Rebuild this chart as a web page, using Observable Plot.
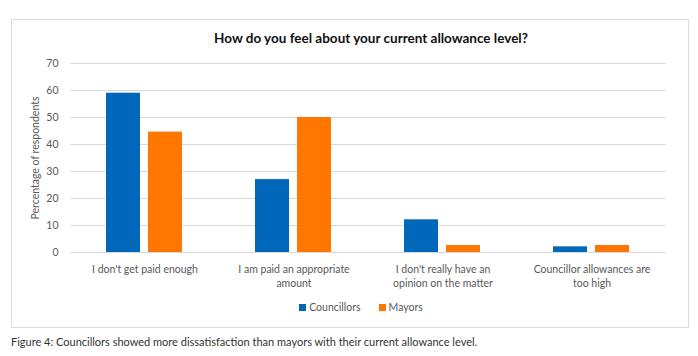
<!DOCTYPE html>
<html>
<head>
<meta charset="utf-8">
<script src="https://cdn.jsdelivr.net/npm/d3@7"></script>
<script src="https://cdn.jsdelivr.net/npm/@observablehq/plot@0.6"></script>
<style>
  body { margin: 0; background: #fff; font-family: Lato, "Open Sans", sans-serif; }
  #page { position: relative; width: 698px; height: 356px; }
  #box { position: absolute; left: 11px; top: 19px; width: 676px; height: 307px; border: 1.5px solid #dcdcdc; }
  #title { position: absolute; left: 0; width: 742px; top: 30px; text-align: center; font-weight: bold; font-size: 13.5px; color: #111; }
  #chart { position: absolute; left: 11px; top: 50px; }
  #legend { position: absolute; left: 0; width: 722px; top: 301px; font-size: 10.5px; color: #595959; text-align: center; }
  #legend span.item { display: inline-block; margin: 0 9px; }
  #legend span.sw { display: inline-block; width: 7px; height: 7px; margin-right: 3px; vertical-align: 0px; }
  #caption { position: absolute; left: 11px; top: 335px; font-size: 11px; color: #333; }
</style>
</head>
<body>
<div id="page">
  <div id="box"></div>
  <div id="title">How do you feel about your current allowance level?</div>
  <div id="chart"></div>
  <div id="legend"></div>
  <div id="caption">Figure 4: Councillors showed more dissatisfaction than mayors with their current allowance level.</div>
</div>
<script>
const categories = [
  "I don't get paid enough",
  "I am paid an appropriate\namount",
  "I don't really have an\nopinion on the matter",
  "Councillor allowances are\ntoo high"
];
const seriesNames = ["Councillors", "Mayors"];
const councillors = [59, 27, 12.1, 2.1];
const mayors = [44.6, 50, 2.6, 2.6];
const colors = ["#0067B9", "#FF7700"];
const yTicks = [0, 10, 20, 30, 40, 50, 60, 70];

const data = [];
categories.forEach((c, i) => {
  data.push({category: c, series: seriesNames[0], value: councillors[i]});
  data.push({category: c, series: seriesNames[1], value: mayors[i]});
});

const chart = Plot.plot({
  width: 679,
  height: 250,
  marginTop: 13,
  marginBottom: 48,
  marginLeft: 58,
  marginRight: 23,
  style: { fontFamily: "Lato, 'Open Sans', sans-serif", fontSize: "10.5px", color: "#595959", background: "transparent" },
  fx: { domain: categories, padding: 0, label: null, axis: null },
  x: { domain: seriesNames, paddingInner: 0.19, paddingOuter: 0.855, axis: null },
  y: { domain: [0, 70], ticks: yTicks, axis: null },
  color: { domain: seriesNames, range: colors },
  marks: [
    Plot.gridY(yTicks, { stroke: "#d9d9d9", strokeOpacity: 1, strokeWidth: 1.2 }),
    Plot.barY(data, { fx: "category", x: "series", y: "value", fill: "series" }),
    Plot.axisY(yTicks, {
      tickSize: 0, tickPadding: 12, fill: "#595959",
      label: "Percentage of respondents", labelAnchor: "center", labelOffset: 39, labelArrow: "none"
    }),
    Plot.axisFx({
      anchor: "bottom", tickSize: 0, tickPadding: 10, fill: "#595959", lineHeight: 1.36, label: null
    })
  ]
});
document.getElementById("chart").appendChild(chart);

const legend = document.getElementById("legend");
seriesNames.forEach((s, i) => {
  const item = document.createElement("span");
  item.className = "item";
  const sw = document.createElement("span");
  sw.className = "sw";
  sw.style.background = colors[i];
  item.appendChild(sw);
  item.appendChild(document.createTextNode(s));
  legend.appendChild(item);
});
</script>
</body>
</html>
